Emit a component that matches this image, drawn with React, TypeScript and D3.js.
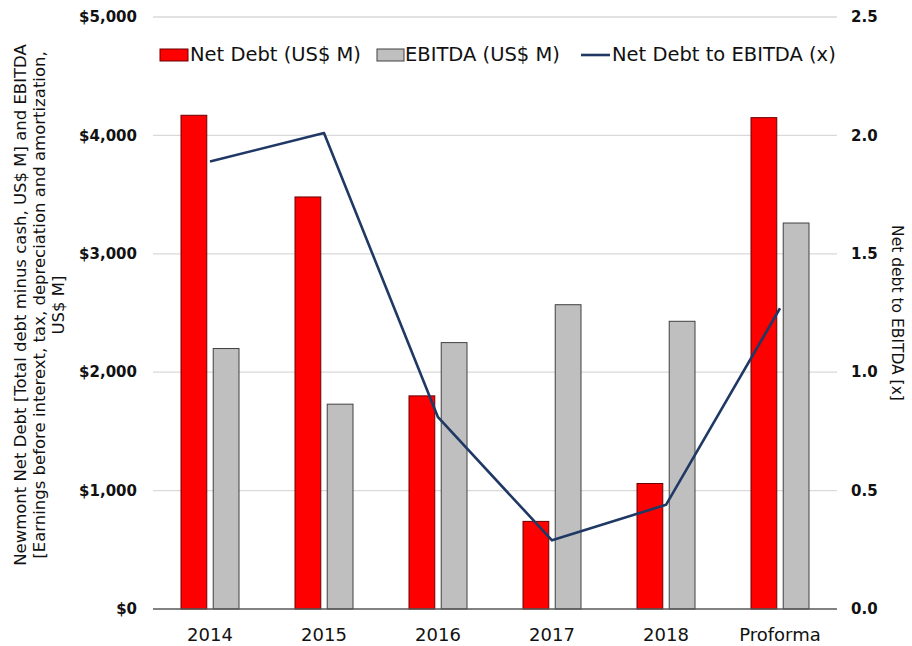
import React from "react";
import * as d3 from "d3";

const categories = ["2014", "2015", "2016", "2017", "2018", "Proforma"];
const netDebt = [4170, 3480, 1800, 740, 1060, 4150];
const ebitda = [2200, 1730, 2250, 2570, 2430, 3260];
const ratio = [1.89, 2.01, 0.81, 0.29, 0.44, 1.27];
const leftTicks = [0, 1000, 2000, 3000, 4000, 5000];
const rightTicks = [0, 0.5, 1.0, 1.5, 2.0, 2.5];
const seriesKeys = ["net", "ebitda"];
const legendItems = ["Net Debt (US$ M)", "EBITDA (US$ M)", "Net Debt to EBITDA (x)"];
const leftTitle = [
  "Newmont Net Debt [Total debt minus cash, US$ M] and EBITDA",
  "[Earnings before interext, tax, depreciation and amortization,",
  "US$ M]",
];
const rightTitle = "Net debt to EBITDA [x]";

const W = 912;
const H = 646;
const M = { left: 153, right: 837, top: 17, bottom: 609 };
const FONT = "'DejaVu Sans', Verdana, sans-serif";

export default function App() {
  const x = d3.scaleBand<string>().domain(categories).range([M.left, M.right]).paddingInner(0).paddingOuter(0);
  const xs = d3.scaleBand<string>().domain(seriesKeys).range([-29, 29]).paddingInner(0.2).paddingOuter(0);
  const yL = d3.scaleLinear().domain([0, 5000]).range([M.bottom, M.top]);
  const yR = d3.scaleLinear().domain([0, 2.5]).range([M.bottom, M.top]);
  const fmtL = (v: number) => "$" + d3.format(",")(v);
  const fmtR = d3.format(".1f");

  const line = d3
    .line<number>()
    .x((_, i) => (x(categories[i]) as number) + x.bandwidth() / 2)
    .y((d) => yR(d));

  const colors = { net: "#ff0000", ebitda: "#bfbfbf" };
  const strokes = { net: "#6b0000", ebitda: "#404040" };

  return (
    <svg
      width={W}
      height={H}
      style={{ position: "absolute", left: 0, top: 0, background: "#fff" }}
      fontFamily={FONT}
    >
      <rect x={0} y={0} width={W} height={H} fill="#fff" />
      {leftTicks.slice(1).map((t) => (
        <line key={"g" + t} x1={M.left} x2={M.right} y1={yL(t)} y2={yL(t)} stroke="#d9d9d9" strokeWidth={1.3} />
      ))}
      {leftTicks.map((t) => (
        <text key={"l" + t} x={137} y={yL(t)} dy="0.35em" textAnchor="end" fontSize={15} fontWeight="bold" fill="#111">
          {fmtL(t)}
        </text>
      ))}
      {rightTicks.map((t) => (
        <text key={"r" + t} x={851} y={yR(t)} dy="0.35em" textAnchor="start" fontSize={15} fontWeight="bold" fill="#111">
          {fmtR(t)}
        </text>
      ))}
      {categories.map((c, i) => {
        const cx = (x(c) as number) + x.bandwidth() / 2;
        const vals = { net: netDebt[i], ebitda: ebitda[i] };
        return (
          <g key={c}>
            {seriesKeys.map((k) => (
              <rect
                key={k}
                x={cx + (xs(k) as number)}
                width={xs.bandwidth()}
                y={yL(vals[k as "net" | "ebitda"])}
                height={yL(0) - yL(vals[k as "net" | "ebitda"])}
                fill={colors[k as "net" | "ebitda"]}
                stroke={strokes[k as "net" | "ebitda"]}
                strokeWidth={1}
              />
            ))}
          </g>
        );
      })}
      <line x1={M.left} x2={M.right} y1={yL(0)} y2={yL(0)} stroke="#595959" strokeWidth={1.6} />
      <path d={line(ratio) || ""} fill="none" stroke="#1f3864" strokeWidth={2.6} strokeLinejoin="round" />
      {categories.map((c) => (
        <text key={"c" + c} x={(x(c) as number) + x.bandwidth() / 2} y={641} textAnchor="middle" fontSize={18} fill="#111">
          {c}
        </text>
      ))}
      <g>
        <rect x={160} y={49} width={28} height={12} fill={colors.net} stroke={strokes.net} strokeWidth={1} />
        <text x={190} y={61} fontSize={19.5} fill="#111">{legendItems[0]}</text>
        <rect x={377} y={49} width={27} height={12} fill={colors.ebitda} stroke={strokes.ebitda} strokeWidth={1} />
        <text x={405} y={61} fontSize={19.5} fill="#111">{legendItems[1]}</text>
        <line x1={581} x2={610} y1={55} y2={55} stroke="#1f3864" strokeWidth={2.6} />
        <text x={612} y={61} fontSize={19.5} fill="#111">{legendItems[2]}</text>
      </g>
      <g transform={`translate(26, ${(M.top + M.bottom) / 2 - 8}) rotate(-90)`}>
        {leftTitle.map((s, i) => (
          <text key={i} x={0} y={i * 19} textAnchor="middle" fontSize={16.5} fill="#111">
            {s}
          </text>
        ))}
      </g>
      <text
        transform={`translate(892, ${(M.top + M.bottom) / 2}) rotate(90)`}
        textAnchor="middle"
        fontSize={15.5}
        fill="#111"
      >
        {rightTitle}
      </text>
    </svg>
  );
}
